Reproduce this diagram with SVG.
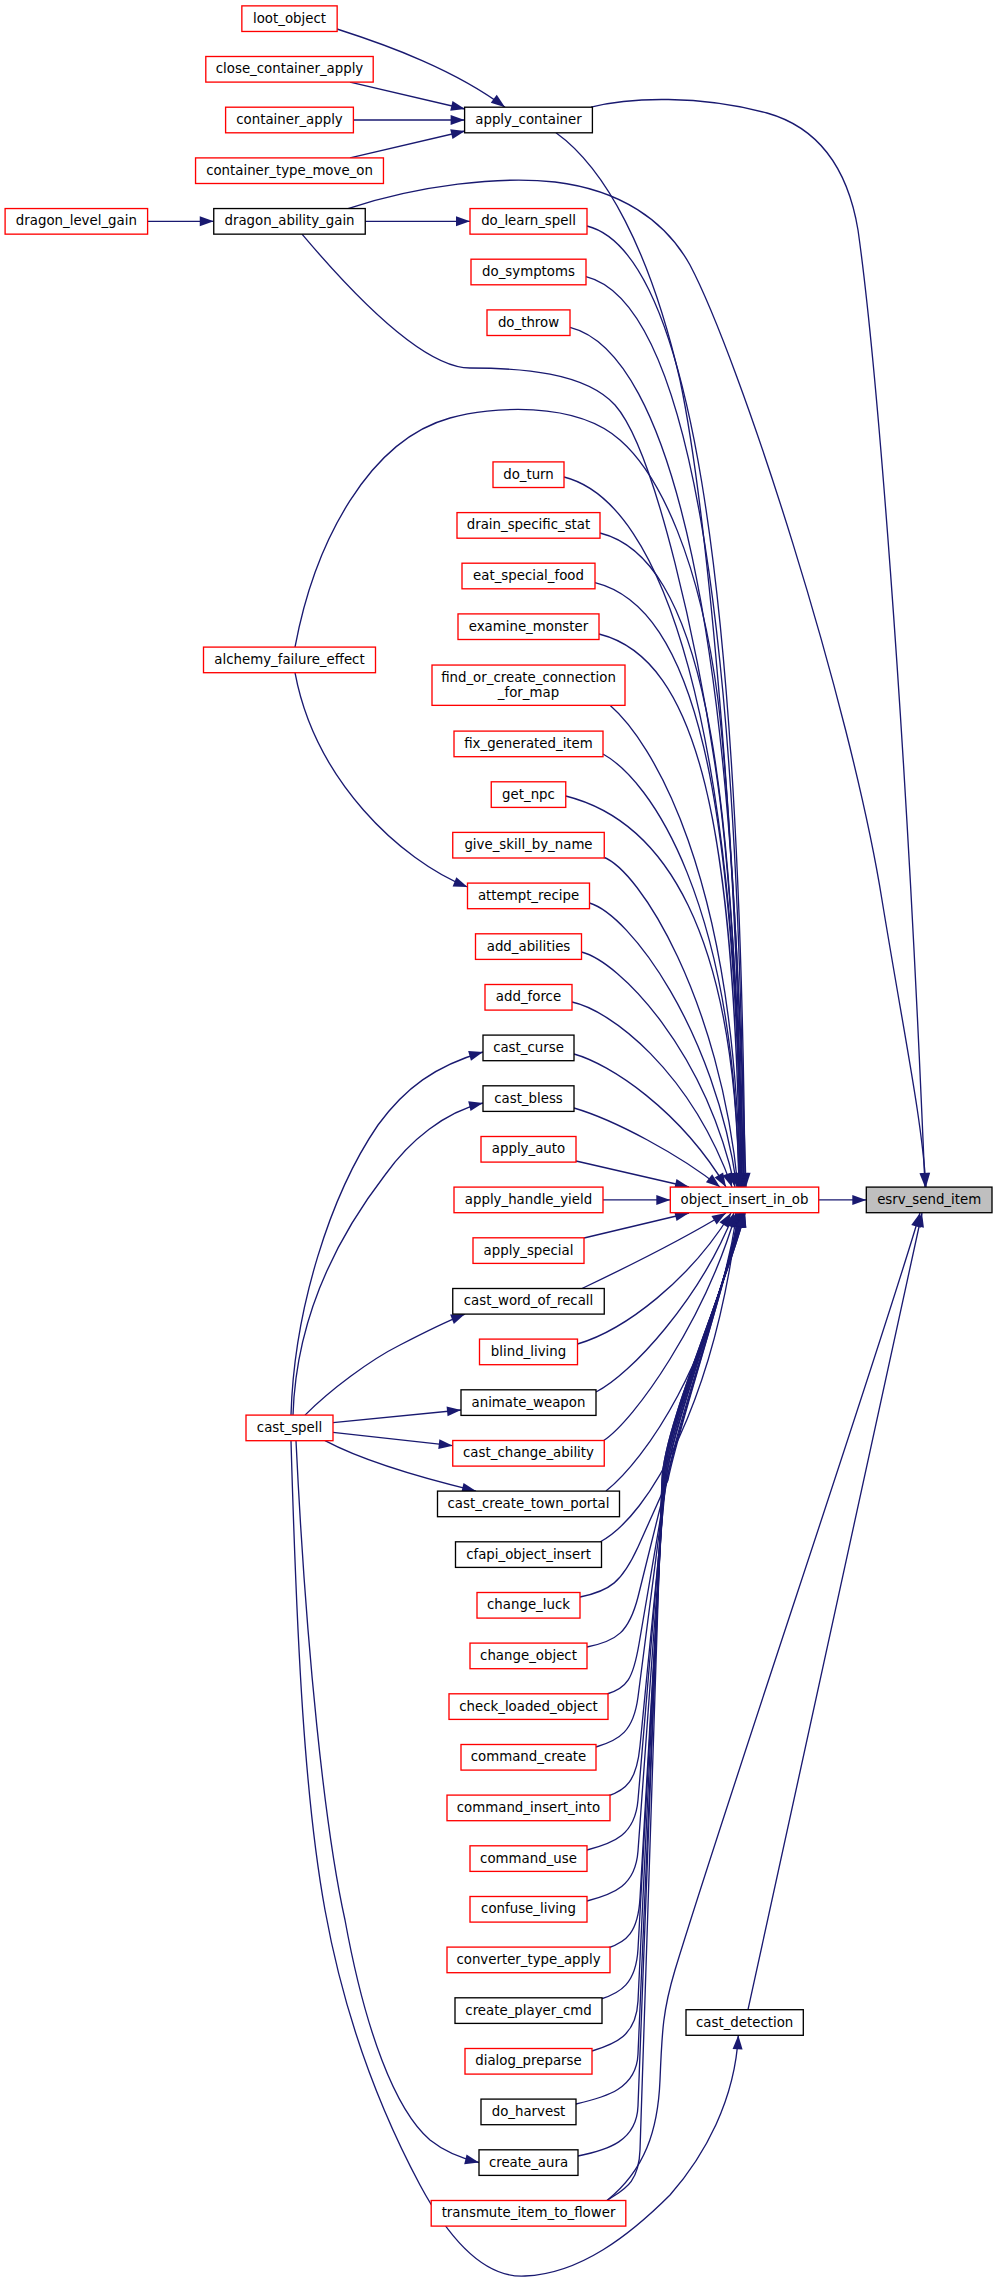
<svg xmlns="http://www.w3.org/2000/svg" width="997" height="2281" viewBox="0 0 997 2281">
<style>
.n rect{fill:#ffffff;stroke-width:1.33}
.r rect{stroke:#ff0000}
.k rect{stroke:#000000}
.gr rect{fill:#bfbfbf;stroke:#000000}
text{font-family:"DejaVu Sans","Liberation Sans",sans-serif;font-size:13.33px;text-anchor:middle;fill:#000000}
#edges path{fill:none;stroke:#191970;stroke-width:1.33;marker-end:url(#a)}
</style>
<defs>
<marker id="a" markerUnits="userSpaceOnUse" viewBox="0 0 14 10" markerWidth="14" markerHeight="10" refX="14" refY="5" orient="auto" overflow="visible">
<path d="M0,0L14,5L0,10z" fill="#191970"/>
</marker>
</defs>
<rect width="997" height="2281" fill="#ffffff"/>
<g id="edges">
<path d="M337,29 C390,46 455,70 505,107.2"/>
<path d="M350,82.1 L465,109"/>
<path d="M353.4,120 L464.6,120"/>
<path d="M350,157.9 L465,131"/>
<path d="M147.6,221.35 L213.75,221.35"/>
<path d="M365.25,221.35 L470,221.35"/>
<path d="M591,107.2 C630,97 700,95 767,113 C820,128 848,170 858,230 C875,350 905,700 925,1187"/>
<path d="M348,208.55 C420,185 500,176 555,182 C620,190 665,220 690,265 C740,360 850,700 882,900 C905,1040 922,1120 926,1187"/>
<path d="M556,132.8 C605,168 650,250 680,380 C705,500 735,800 746,1187"/>
<path d="M302,234.15 C345,285 420,368 470,368 C520,368 585,372 615,405 C655,450 700,650 720,800 C732,900 740,1050 744,1187"/>
<path d="M295,647.1 C315,540 370,440 450,418 C490,407 575,400 620,440 C660,475 700,560 718,700 C730,800 740,1000 742,1187"/>
<path d="M295,672.7 C315,780 400,860 467.5,887"/>
<path d="M587,226 C687,251 740,562 745,1187"/>
<path d="M586,276.6 C686,301.6 739,595 744,1187"/>
<path d="M570,327.3 C670,352.3 738,628 743,1187"/>
<path d="M564,477 C664,502 737,725 742,1187"/>
<path d="M600,533 C700,558 736,762 741,1187"/>
<path d="M595,582.7 C695,607.7 736,794 741,1187"/>
<path d="M599,634 C699,659 735,827 740,1187"/>
<path d="M610,705.35 C650,740 735,870 740,1187"/>
<path d="M603,754 C650,780 735,900 739,1187"/>
<path d="M565.75,796 C665,821 735,932 739,1187"/>
<path d="M603,857 C640,870 720,1000 738,1187"/>
<path d="M589.5,903 C630,915 715,1030 737,1187"/>
<path d="M581.5,952 C620,962 705,1050 735,1187"/>
<path d="M572,1002 C610,1010 690,1070 732,1187"/>
<path d="M574,1054 C610,1064 680,1110 726,1187"/>
<path d="M574,1108 C615,1120 680,1155 720,1187"/>
<path d="M576,1161 L689,1187"/>
<path d="M603,1199.9 L670.3,1199.9"/>
<path d="M584,1238 L689,1213"/>
<path d="M582,1288.5 C625,1268 690,1235 726,1213"/>
<path d="M577.5,1344 C625,1330 690,1280 731,1213"/>
<path d="M596,1392 C630,1375 700,1300 734,1213"/>
<path d="M603,1441 C635,1420 705,1320 736,1213"/>
<path d="M606,1491.1 C645,1460 715,1360 737,1213"/>
<path d="M600,1542 C650,1515 715,1400 738,1213"/>
<path d="M580,1597 C610,1591 622,1582 638,1547 L668,1480 C679,1425 725,1290 739,1213"/>
<path d="M587,1647 C617,1641 629,1632 638,1597 L667,1480 C678,1425 725,1290 740,1213"/>
<path d="M607,1694 C627,1688 633,1679 639,1644 L667,1480 C676,1425 725,1290 740,1213"/>
<path d="M596,1747 C620,1740 633.5,1731 638,1697 L666,1480 C673,1425 725,1290 741,1213"/>
<path d="M608,1796 C626,1790 636.6,1781 640,1746 L666,1480 C671.4,1425 725,1290 741,1213"/>
<path d="M587,1850 C614,1843 635,1835 638,1800 L665,1480 C669.6,1425 725,1290 742,1213"/>
<path d="M587,1901 C614,1894 635.4,1886 638,1851 L665,1480 C669,1425 725,1290 742,1213"/>
<path d="M608,1948 C626,1942 638,1933 640,1898 L664,1480 C667,1425 725,1290 743,1213"/>
<path d="M601,1999 C620,1993 636,1984 638,1949 L664,1480 C667,1425 725,1290 743,1213"/>
<path d="M592,2051 C615,2044 636.3,2036 638,2001 L663,1480 C665.6,1425 725,1290 744,1213"/>
<path d="M576,2104 C606,2097 636.5,2089 638,2054 L663,1480 C665.4,1425 725,1290 744,1213"/>
<path d="M578,2156 C608,2150 636.7,2141 638,2106 L662,1480 C664,1425 725,1290 745,1213"/>
<path d="M607,2200.5 C622,2190 638.8,2185 640,2150 L662,1480 C664,1425 725,1290 745,1213"/>
<path d="M818.7,1199.9 L866.3,1199.9"/>
<path d="M748,2009.7 C772,1900 896,1333 922,1213"/>
<path d="M607,2200.5 C645,2170 658,2130 660,2080 C662,2030 663,2010 675,1970 C730,1790 880,1350 920,1213"/>
<path d="M291,1415.1 C294,1310 330,1195 378,1125 C405,1088 435,1066 483,1052"/>
<path d="M293,1415.1 C296,1320 335,1240 385,1175 C410,1140 445,1112 483,1103"/>
<path d="M305,1415.1 C330,1390 370,1360 400,1345 C425,1332 445,1322 465,1314.1"/>
<path d="M333,1422.7 L461,1410"/>
<path d="M333,1432.3 L452.75,1445.7"/>
<path d="M325,1440.7 C365,1462 430,1480 476,1491.1"/>
<path d="M296,1440.7 C306,1650 325,1830 345,1920 C365,2030 395,2110 430,2140 C445,2152 460,2158 479,2162.5"/>
<path d="M291,1440.7 C297,1650 305,1800 325,1910 C345,2020 380,2110 420,2185 C455,2250 490,2278 525,2276 C580,2274 630,2235 670,2195 C705,2155 735,2100 738.3,2035.3"/>
</g>
<g id="n_loot_object" class="n r"><rect x="241.85" y="5.87" width="95.3" height="25.6"/><text x="289.5" y="22.67">loot_object</text></g>
<g id="n_close_container_apply" class="n r"><rect x="205.8" y="56.5" width="167.4" height="25.6"/><text x="289.5" y="73.3">close_container_apply</text></g>
<g id="n_container_apply" class="n r"><rect x="225.6" y="107.2" width="127.8" height="25.6"/><text x="289.5" y="124">container_apply</text></g>
<g id="n_container_type_move_on" class="n r"><rect x="195.55" y="157.9" width="187.9" height="25.6"/><text x="289.5" y="174.7">container_type_move_on</text></g>
<g id="n_dragon_level_gain" class="n r"><rect x="5.1" y="208.55" width="142.5" height="25.6"/><text x="76.35" y="225.35">dragon_level_gain</text></g>
<g id="n_dragon_ability_gain" class="n k"><rect x="213.75" y="208.55" width="151.5" height="25.6"/><text x="289.5" y="225.35">dragon_ability_gain</text></g>
<g id="n_alchemy_failure_effect" class="n r"><rect x="203.5" y="647.1" width="172" height="25.6"/><text x="289.5" y="663.9">alchemy_failure_effect</text></g>
<g id="n_cast_spell" class="n r"><rect x="246" y="1415.1" width="87" height="25.6"/><text x="289.5" y="1431.9">cast_spell</text></g>
<g id="n_apply_container" class="n k"><rect x="464.6" y="107.2" width="127.8" height="25.6"/><text x="528.5" y="124">apply_container</text></g>
<g id="n_do_learn_spell" class="n r"><rect x="470" y="208.55" width="117" height="25.6"/><text x="528.5" y="225.35">do_learn_spell</text></g>
<g id="n_do_symptoms" class="n r"><rect x="471" y="259.2" width="115" height="25.6"/><text x="528.5" y="276">do_symptoms</text></g>
<g id="n_do_throw" class="n r"><rect x="487" y="309.9" width="83" height="25.6"/><text x="528.5" y="326.7">do_throw</text></g>
<g id="n_do_turn" class="n r"><rect x="493" y="461.9" width="71" height="25.6"/><text x="528.5" y="478.7">do_turn</text></g>
<g id="n_drain_specific_stat" class="n r"><rect x="457" y="512.6" width="143" height="25.6"/><text x="528.5" y="529.4">drain_specific_stat</text></g>
<g id="n_eat_special_food" class="n r"><rect x="462" y="563.2" width="133" height="25.6"/><text x="528.5" y="580">eat_special_food</text></g>
<g id="n_examine_monster" class="n r"><rect x="458" y="613.9" width="141" height="25.6"/><text x="528.5" y="630.7">examine_monster</text></g>
<g id="n_find_or_create_connection_for_map" class="n r"><rect x="432" y="665.05" width="193" height="40.3"/><text x="528.5" y="681.85">find_or_create_connection</text><text x="528.5" y="696.55">_for_map</text></g>
<g id="n_fix_generated_item" class="n r"><rect x="454" y="731.1" width="149" height="25.6"/><text x="528.5" y="747.9">fix_generated_item</text></g>
<g id="n_get_npc" class="n r"><rect x="491.25" y="781.8" width="74.5" height="25.6"/><text x="528.5" y="798.6">get_npc</text></g>
<g id="n_give_skill_by_name" class="n r"><rect x="452.75" y="832.4" width="151.5" height="25.6"/><text x="528.5" y="849.2">give_skill_by_name</text></g>
<g id="n_attempt_recipe" class="n r"><rect x="467.5" y="883.1" width="122" height="25.6"/><text x="528.5" y="899.9">attempt_recipe</text></g>
<g id="n_add_abilities" class="n r"><rect x="475.5" y="933.8" width="106" height="25.6"/><text x="528.5" y="950.6">add_abilities</text></g>
<g id="n_add_force" class="n r"><rect x="485" y="984.5" width="87" height="25.6"/><text x="528.5" y="1001.3">add_force</text></g>
<g id="n_cast_curse" class="n k"><rect x="483" y="1035.1" width="91" height="25.6"/><text x="528.5" y="1051.9">cast_curse</text></g>
<g id="n_cast_bless" class="n k"><rect x="483" y="1085.8" width="91" height="25.6"/><text x="528.5" y="1102.6">cast_bless</text></g>
<g id="n_apply_auto" class="n r"><rect x="481" y="1136.5" width="95" height="25.6"/><text x="528.5" y="1153.3">apply_auto</text></g>
<g id="n_apply_handle_yield" class="n r"><rect x="454" y="1187.1" width="149" height="25.6"/><text x="528.5" y="1203.9">apply_handle_yield</text></g>
<g id="n_apply_special" class="n r"><rect x="473" y="1237.8" width="111" height="25.6"/><text x="528.5" y="1254.6">apply_special</text></g>
<g id="n_cast_word_of_recall" class="n k"><rect x="452.75" y="1288.5" width="151.5" height="25.6"/><text x="528.5" y="1305.3">cast_word_of_recall</text></g>
<g id="n_blind_living" class="n r"><rect x="479.5" y="1339.1" width="98" height="25.6"/><text x="528.5" y="1355.9">blind_living</text></g>
<g id="n_animate_weapon" class="n k"><rect x="461" y="1389.8" width="135" height="25.6"/><text x="528.5" y="1406.6">animate_weapon</text></g>
<g id="n_cast_change_ability" class="n r"><rect x="452.75" y="1440.5" width="151.5" height="25.6"/><text x="528.5" y="1457.3">cast_change_ability</text></g>
<g id="n_cast_create_town_portal" class="n k"><rect x="437.5" y="1491.1" width="182" height="25.6"/><text x="528.5" y="1507.9">cast_create_town_portal</text></g>
<g id="n_cfapi_object_insert" class="n k"><rect x="455.5" y="1541.8" width="146" height="25.6"/><text x="528.5" y="1558.6">cfapi_object_insert</text></g>
<g id="n_change_luck" class="n r"><rect x="477" y="1592.5" width="103" height="25.6"/><text x="528.5" y="1609.3">change_luck</text></g>
<g id="n_change_object" class="n r"><rect x="470" y="1643.1" width="117" height="25.6"/><text x="528.5" y="1659.9">change_object</text></g>
<g id="n_check_loaded_object" class="n r"><rect x="449" y="1693.8" width="159" height="25.6"/><text x="528.5" y="1710.6">check_loaded_object</text></g>
<g id="n_command_create" class="n r"><rect x="461" y="1744.5" width="135" height="25.6"/><text x="528.5" y="1761.3">command_create</text></g>
<g id="n_command_insert_into" class="n r"><rect x="447" y="1795.1" width="163" height="25.6"/><text x="528.5" y="1811.9">command_insert_into</text></g>
<g id="n_command_use" class="n r"><rect x="470" y="1845.8" width="117" height="25.6"/><text x="528.5" y="1862.6">command_use</text></g>
<g id="n_confuse_living" class="n r"><rect x="470" y="1896.5" width="117" height="25.6"/><text x="528.5" y="1913.3">confuse_living</text></g>
<g id="n_converter_type_apply" class="n r"><rect x="447" y="1947.1" width="163" height="25.6"/><text x="528.5" y="1963.9">converter_type_apply</text></g>
<g id="n_create_player_cmd" class="n k"><rect x="455" y="1997.8" width="147" height="25.6"/><text x="528.5" y="2014.6">create_player_cmd</text></g>
<g id="n_dialog_preparse" class="n r"><rect x="465" y="2048.5" width="127" height="25.6"/><text x="528.5" y="2065.3">dialog_preparse</text></g>
<g id="n_do_harvest" class="n k"><rect x="481" y="2099.1" width="95" height="25.6"/><text x="528.5" y="2115.9">do_harvest</text></g>
<g id="n_create_aura" class="n k"><rect x="479" y="2149.8" width="99" height="25.6"/><text x="528.5" y="2166.6">create_aura</text></g>
<g id="n_transmute_item_to_flower" class="n r"><rect x="431.2" y="2200.5" width="194.6" height="25.6"/><text x="528.5" y="2217.3">transmute_item_to_flower</text></g>
<g id="n_object_insert_in_ob" class="n r"><rect x="670.3" y="1187.1" width="148.4" height="25.6"/><text x="744.5" y="1203.9">object_insert_in_ob</text></g>
<g id="n_cast_detection" class="n k"><rect x="686" y="2009.7" width="117.3" height="25.6"/><text x="744.65" y="2026.5">cast_detection</text></g>
<g id="n_esrv_send_item" class="n gr"><rect x="866.3" y="1187.1" width="125.7" height="25.6"/><text x="929.15" y="1203.9">esrv_send_item</text></g>
</svg>
